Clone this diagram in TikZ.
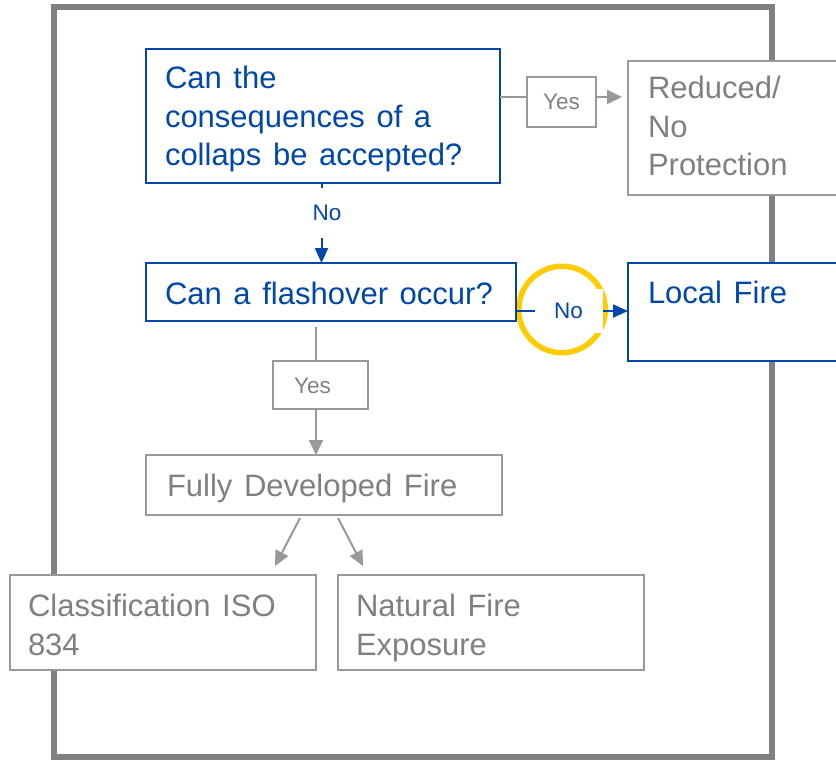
\documentclass[tikz,border=0pt]{standalone}
\usepackage{fontspec}
\setmainfont[WordSpace=1.35]{Liberation Sans}
\usetikzlibrary{arrows.meta}
\definecolor{qblue}{RGB}{0,71,171}
\definecolor{qline}{RGB}{153,153,153}
\definecolor{qtext}{RGB}{128,128,128}
\definecolor{qframe}{RGB}{128,128,128}
\definecolor{qyellow}{RGB}{255,204,0}
\newcommand\bigfs{\fontsize{31pt}{38.5pt}\selectfont}
\newcommand\smallfs{\fontsize{22.5pt}{27pt}\selectfont}
\tikzset{
  every node/.style={outer sep=0pt},
  bluebox/.style={rectangle, draw=qblue, line width=2pt, fill=white, inner sep=0pt, anchor=north west},
  graybox/.style={rectangle, draw=qline, line width=2pt, fill=white, inner sep=0pt, anchor=north west},
  bluetxt/.style={text=qblue, font=\bigfs, align=left, inner sep=0pt, anchor=north west},
  graytxt/.style={text=qtext, font=\bigfs, align=left, inner sep=0pt, anchor=north west},
  bluelbl/.style={text=qblue, font=\smallfs, fill=white, inner sep=0pt},
  graylbl/.style={text=qtext, font=\smallfs, inner sep=0pt},
  yesbox/.style={rectangle, draw=qline, line width=2pt, fill=white, inner sep=0pt, text=qtext, font=\smallfs},
  bluearrow/.style={draw=qblue, line width=2pt, -{Triangle[length=15pt,width=13pt]}},
  grayarrow/.style={draw=qline, line width=2pt, -{Triangle[length=15pt,width=14pt]}},
}
\begin{document}
\begin{tikzpicture}[x=1pt,y=-1pt]
\clip (0,0) rectangle (836,764);
\fill[white] (0,0) rectangle (836,764);
% outer frame
\node[rectangle, draw=qframe, line width=6pt, inner sep=0pt, anchor=north west,
      minimum width=718pt, minimum height=750pt] (frame) at (54,7) {};
% highlight ring
\node[circle, draw=qyellow, line width=5.5pt, inner sep=0pt, minimum size=86.5pt] (ring) at (562,309.5) {};
% boxes
\node[bluebox, minimum width=354pt, minimum height=134pt] (q1) at (146,49) {};
\node[graybox, minimum width=240pt, minimum height=134pt] (r1) at (628,61) {};
\node[bluebox, minimum width=370pt, minimum height=58pt] (q2) at (146,263) {};
\node[bluebox, minimum width=240pt, minimum height=98pt] (lf) at (628,263) {};
\node[graybox, minimum width=356pt, minimum height=60pt] (fd) at (146,455) {};
\node[graybox, minimum width=306pt, minimum height=95pt] (ci) at (10,575) {};
\node[graybox, minimum width=306pt, minimum height=95pt] (nf) at (338,575) {};
% texts
\node[bluetxt] (q1t) at (165,66.4) {Can the\\consequences of a\\collaps be accepted?};
\node[graytxt] (r1t) at (648,76.4) {Reduced/\\No\\Protection};
\node[bluetxt] (q2t) at (165,282.4) {Can a flashover occur?};
\node[bluetxt] (lft) at (648,281.4) {Local Fire};
\node[graytxt] (fdt) at (167,474.4) {Fully Developed Fire};
\node[graytxt] (cit) at (28,594.4) {Classification ISO\\834};
\node[graytxt] (nft) at (356,594.4) {Natural Fire\\Exposure};
% connectors
\coordinate (y1line) at (0,97);
\draw[grayarrow, shorten >=6pt] (q1.east |- y1line) -- (r1.west |- y1line);
\draw[bluearrow] ([xshift=-1.5pt]q1.south) -- ([xshift=-1.5pt]q1.south |- q2.north);
\coordinate (n2line) at (0,311);
\draw[bluearrow] (q2.east |- n2line) -- (lf.west |- n2line);
\draw[grayarrow] ([xshift=-15pt,yshift=-6pt]q2.south) -- ([xshift=-15pt]q2.south |- fd.north);
\draw[grayarrow] ([xshift=-24pt,yshift=-3pt]fd.south) -- ([xshift=-41pt,yshift=9pt]ci.north east);
\draw[grayarrow] ([xshift=14pt,yshift=-3pt]fd.south) -- ([xshift=25pt,yshift=9pt]nf.north west);
% labels
\node[yesbox, minimum width=69pt, minimum height=50pt] (yes1) at (561.5,102) {Yes};
\node[yesbox, minimum width=95pt, minimum height=48pt] (yes2) at (320.5,385) {};
\node[graylbl] (yes2t) at (312.5,386) {Yes};
\node[bluelbl, minimum width=40pt, minimum height=50pt] (no1) at (327,213) {No};
\node[bluelbl, minimum width=68pt, minimum height=44pt] (no2) at (568.5,311) {No};
\end{tikzpicture}
\end{document}
